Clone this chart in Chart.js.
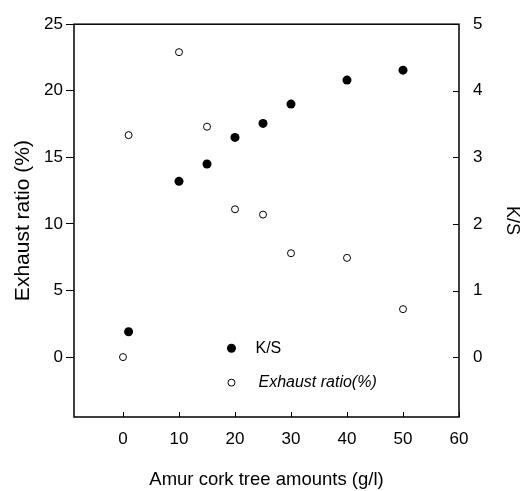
<!DOCTYPE html>
<html>
<head>
<meta charset="utf-8">
<script src="https://cdn.jsdelivr.net/npm/chart.js@4/dist/chart.umd.min.js"></script>
<style>
  html, body { margin: 0; padding: 0; background: #fff; }
  #wrap { width: 525px; height: 491px; }
</style>
</head>
<body>
<div id="wrap"><canvas id="chart" width="525" height="491"></canvas></div>
<script>
// data
const ksAmounts = [1, 10, 15, 20, 25, 30, 40, 50];
const ksValues = [0.38, 2.64, 2.9, 3.3, 3.51, 3.8, 4.16, 4.31];

const exhaustAmounts = [0, 1, 10, 15, 20, 25, 30, 40, 50];
const exhaustValues = [0, 16.67, 22.9, 17.3, 11.1, 10.7, 7.8, 7.45, 3.6];

const xTicks = [0, 10, 20, 30, 40, 50, 60];
const leftTicks = [0, 5, 10, 15, 20, 25];
const rightTicks = [0, 1, 2, 3, 4, 5];

const legendLabels = ["K/S", "Exhaust ratio(%)"];

const FONT = "'Liberation Sans', Arial, sans-serif";

const toPoints = (xs, ys) => xs.map((x, i) => ({ x: x, y: ys[i] }));

// box around plot + inside tick marks + legend inside the plot
const framePlugin = {
  id: "frame",
  afterDraw(chart) {
    const ctx = chart.ctx;
    const a = chart.chartArea;
    const xs = chart.scales.x;
    const yr = chart.scales.y1;
    ctx.save();
    ctx.strokeStyle = "#000";
    ctx.lineWidth = 1.5;
    ctx.strokeRect(a.left, a.top, a.right - a.left, a.bottom - a.top);

    ctx.lineWidth = 1;
    ctx.beginPath();
    xTicks.forEach(v => {
      const px = Math.round(xs.getPixelForValue(v)) + 0.5;
      ctx.moveTo(px, a.bottom);
      ctx.lineTo(px, a.bottom - 5);
    });
    rightTicks.forEach(v => {
      const py = Math.round(yr.getPixelForValue(v)) + 0.5;
      ctx.moveTo(a.right, py);
      ctx.lineTo(a.right - 6, py);
    });
    ctx.stroke();

    // legend
    const lx = a.left + (a.right - a.left) * 0.409;
    const ly = [a.top + (a.bottom - a.top) * 0.825, a.top + (a.bottom - a.top) * 0.9125];
    ctx.textBaseline = "middle";
    ctx.fillStyle = "#000";
    ctx.beginPath();
    ctx.arc(lx, ly[0], 4.5, 0, Math.PI * 2);
    ctx.fill();
    ctx.font = "16px " + FONT;
    ctx.fillText(legendLabels[0], lx + 24, ly[0]);

    ctx.beginPath();
    ctx.arc(lx, ly[1], 3.5, 0, Math.PI * 2);
    ctx.fillStyle = "#fff";
    ctx.fill();
    ctx.strokeStyle = "#000";
    ctx.lineWidth = 1;
    ctx.stroke();
    ctx.fillStyle = "#000";
    ctx.font = "italic 16px " + FONT;
    ctx.fillText(legendLabels[1], lx + 27, ly[1]);
    ctx.restore();
  }
};

new Chart(document.getElementById("chart"), {
  type: "scatter",
  data: {
    datasets: [
      {
        label: legendLabels[0],
        data: toPoints(ksAmounts, ksValues),
        yAxisID: "y1",
        pointRadius: 4.5,
        pointBorderWidth: 0,
        backgroundColor: "#000",
        borderColor: "#000"
      },
      {
        label: legendLabels[1],
        data: toPoints(exhaustAmounts, exhaustValues),
        yAxisID: "y",
        pointRadius: 3.5,
        pointBorderWidth: 1,
        backgroundColor: "#fff",
        borderColor: "#000"
      }
    ]
  },
  options: {
    responsive: false,
    animation: false,
    layout: { padding: { top: 17, left: 0, right: 0, bottom: 0 } },
    plugins: {
      legend: { display: false },
      tooltip: { enabled: false }
    },
    scales: {
      x: {
        type: "linear",
        min: -8.75,
        max: 60,
        afterBuildTicks: s => { s.ticks = xTicks.map(v => ({ value: v })); },
        afterFit: s => { s.height = 74; },
        border: { display: false },
        grid: { display: false, drawTicks: false },
        ticks: { color: "#000", padding: 12, font: { family: FONT, size: 17 } },
        title: {
          display: true,
          text: "Amur cork tree amounts (g/l)",
          color: "#000",
          padding: { top: 0, bottom: 0 },
          font: { family: FONT, size: 18.5 }
        }
      },
      y: {
        position: "left",
        min: -4.5,
        max: 25,
        afterBuildTicks: s => { s.ticks = leftTicks.map(v => ({ value: v })); },
        afterFit: s => { s.width = 74; },
        border: { display: false },
        grid: { drawOnChartArea: false, drawTicks: true, tickLength: 8, color: "#000", lineWidth: 1 },
        ticks: { color: "#000", padding: 3, font: { family: FONT, size: 17 } },
        title: {
          display: true,
          text: "Exhaust ratio (%)",
          color: "#000",
          padding: { top: 11, bottom: 0 },
          font: { family: FONT, size: 21 }
        }
      },
      y1: {
        position: "right",
        min: -0.9,
        max: 5,
        afterBuildTicks: s => { s.ticks = rightTicks.map(v => ({ value: v })); },
        afterFit: s => { s.width = 66; },
        border: { display: false },
        grid: { display: false, drawTicks: false },
        ticks: { color: "#000", padding: 14, font: { family: FONT, size: 17 } },
        title: {
          display: true,
          text: "K/S",
          color: "#000",
          padding: { top: 2, bottom: 0 },
          font: { family: FONT, size: 18 }
        }
      }
    }
  },
  plugins: [framePlugin]
});
</script>
</body>
</html>
